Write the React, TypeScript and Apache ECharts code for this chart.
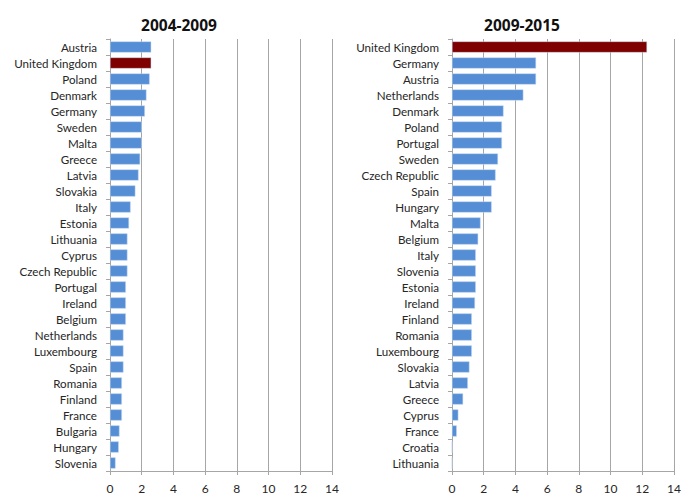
import React, { useEffect, useRef } from "react";
import * as echarts from "echarts";

const leftTitle = "2004-2009";
const rightTitle = "2009-2015";

const leftCountries = [
  "Austria", "United Kingdom", "Poland", "Denmark", "Germany", "Sweden", "Malta",
  "Greece", "Latvia", "Slovakia", "Italy", "Estonia", "Lithuania", "Cyprus",
  "Czech Republic", "Portugal", "Ireland", "Belgium", "Netherlands", "Luxembourg",
  "Spain", "Romania", "Finland", "France", "Bulgaria", "Hungary", "Slovenia",
];
const leftValues = [
  2.6, 2.6, 2.5, 2.3, 2.2, 2.0, 2.0, 1.9, 1.8, 1.6, 1.3, 1.2, 1.1, 1.1,
  1.1, 1.0, 1.0, 1.0, 0.85, 0.85, 0.85, 0.75, 0.75, 0.75, 0.6, 0.55, 0.35,
];

const rightCountries = [
  "United Kingdom", "Germany", "Austria", "Netherlands", "Denmark", "Poland",
  "Portugal", "Sweden", "Czech Republic", "Spain", "Hungary", "Malta", "Belgium",
  "Italy", "Slovenia", "Estonia", "Ireland", "Finland", "Romania", "Luxembourg",
  "Slovakia", "Latvia", "Greece", "Cyprus", "France", "Croatia", "Lithuania",
];
const rightValues = [
  12.3, 5.3, 5.3, 4.5, 3.25, 3.15, 3.15, 2.9, 2.75, 2.5, 2.5, 1.8, 1.65,
  1.5, 1.5, 1.5, 1.45, 1.25, 1.25, 1.25, 1.1, 1.0, 0.7, 0.4, 0.3, 0, 0,
];

const highlight = "United Kingdom";
const xTicks = { min: 0, max: 14, interval: 2 };

const BLUE = "#558ed5";
const RED = "#7f0000";
const FONT = "Lato";

export default function App() {
  const ref = useRef<HTMLDivElement>(null);

  useEffect(() => {
    if (!ref.current) return;
    const chart = echarts.init(ref.current, null, { renderer: "svg" });

    const valueAxis = (gridIndex: number) => ({
      type: "value" as const,
      gridIndex,
      min: xTicks.min,
      max: xTicks.max,
      interval: xTicks.interval,
      axisLine: { show: true, lineStyle: { color: "#a6a6a6", width: 1 } },
      axisTick: { show: true, length: 4, lineStyle: { color: "#a6a6a6" } },
      axisLabel: { color: "#262626", fontFamily: FONT, fontSize: 12, margin: 11 },
      splitLine: { show: true, lineStyle: { color: "#a6a6a6", width: 1 } },
    });

    const catAxis = (gridIndex: number, data: string[]) => ({
      type: "category" as const,
      gridIndex,
      data,
      inverse: true,
      axisLine: { show: true, lineStyle: { color: "#a6a6a6", width: 1 } },
      axisTick: { show: true, length: 4, alignWithLabel: false, lineStyle: { color: "#a6a6a6" } },
      axisLabel: { color: "#262626", fontFamily: FONT, fontSize: 11.6, margin: 13, interval: 0 },
      splitLine: { show: false },
    });

    const mkData = (cats: string[], vals: number[]) =>
      vals.map((v, i) => ({
        value: v,
        itemStyle: { color: cats[i] === highlight ? RED : BLUE },
      }));

    chart.setOption({
      animation: false,
      backgroundColor: "#ffffff",
      title: [
        {
          text: leftTitle,
          left: 174,
          top: 12,
          textAlign: "center",
          textStyle: { fontFamily: "Open Sans", fontWeight: "bold", fontSize: 15.5, color: "#111" },
        },
        {
          text: rightTitle,
          left: 517,
          top: 12,
          textAlign: "center",
          textStyle: { fontFamily: "Open Sans", fontWeight: "bold", fontSize: 15.5, color: "#111" },
        },
      ],
      grid: [
        { left: 110, top: 39, width: 222, height: 432, containLabel: false },
        { left: 452, top: 39, width: 222, height: 432, containLabel: false },
      ],
      xAxis: [valueAxis(0), valueAxis(1)],
      yAxis: [catAxis(0, leftCountries), catAxis(1, rightCountries)],
      series: [
        {
          type: "bar",
          xAxisIndex: 0,
          yAxisIndex: 0,
          data: mkData(leftCountries, leftValues),
          barCategoryGap: "30%",
          itemStyle: { borderColor: "#c6d9f1", borderWidth: 0.5 },
        },
        {
          type: "bar",
          xAxisIndex: 1,
          yAxisIndex: 1,
          data: mkData(rightCountries, rightValues),
          barCategoryGap: "30%",
          itemStyle: { borderColor: "#c6d9f1", borderWidth: 0.5 },
        },
      ],
    });

    return () => chart.dispose();
  }, []);

  return (
    <div
      ref={ref}
      style={{ position: "fixed", left: 0, top: 0, width: 700, height: 504, background: "#fff" }}
    />
  );
}
